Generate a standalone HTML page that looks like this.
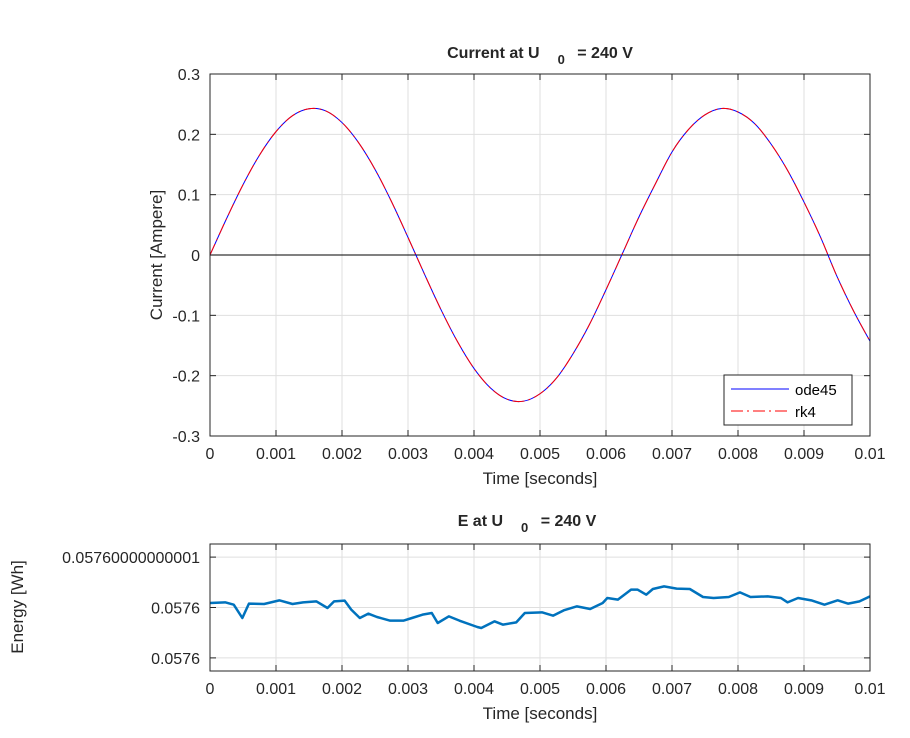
<!DOCTYPE html>
<html><head><meta charset="utf-8"><style>
body{margin:0;background:#fff;}
svg{font-family:"Liberation Sans",sans-serif;}
</style></head><body>
<svg id="c" width="910" height="733" xmlns="http://www.w3.org/2000/svg"></svg>
<script>
const timeMs=[0,0.25,0.5,0.75,1,1.25,1.5,1.75,2,2.25,2.5,2.75,3,3.25,3.5,3.75,4,4.25,4.5,4.75,5,5.25,5.5,5.75,6,6.25,6.5,6.75,7,7.25,7.5,7.75,8,8.25,8.5,8.75,9,9.25,9.5,9.75,10];
const currentA=[0,0.0601,0.1165,0.1656,0.2045,0.2309,0.2424,0.2390,0.2195,0.1864,0.142,0.0885,0.0292,-0.0318,-0.0906,-0.1436,-0.188,-0.2204,-0.239,-0.2423,-0.230,-0.204,-0.1638,-0.115,-0.0576,0.0027,0.0632,0.1183,0.1708,0.208,0.2323,0.2428,0.237,0.218,0.184,0.1405,0.0877,0.0297,-0.0355,-0.0926,-0.143];
const eTimeMs=[0,0.23,0.36,0.49,0.59,0.82,1.05,1.25,1.41,1.61,1.78,1.88,2.04,2.14,2.27,2.40,2.53,2.73,2.93,3.06,3.22,3.36,3.45,3.62,3.78,4.05,4.11,4.31,4.44,4.64,4.77,5.03,5.20,5.36,5.56,5.76,5.95,6.02,6.18,6.38,6.48,6.61,6.71,6.88,7.07,7.27,7.47,7.63,7.86,8.03,8.19,8.45,8.65,8.75,8.91,9.11,9.31,9.51,9.67,9.84,10];
const energyOffset=[-0.2,-0.07,-0.53,-3.2,-0.33,-0.4,0.33,-0.4,-0.07,0.13,-1.2,0.13,0.27,-1.53,-3.2,-2.33,-3,-3.73,-3.73,-3.2,-2.53,-2.2,-4.2,-2.87,-3.73,-5,-5.2,-3.87,-4.53,-4.07,-2.2,-2.07,-2.73,-1.67,-0.87,-1.4,-0.2,0.8,0.47,2.47,2.47,1.47,2.6,3.13,2.67,2.6,1,0.8,1,1.93,1,1.13,0.8,-0.07,0.8,0.33,-0.53,0.33,-0.33,0.13,1.13];
const xTicks=[0,0.001,0.002,0.003,0.004,0.005,0.006,0.007,0.008,0.009,0.01];
const xTickLabels=["0","0.001","0.002","0.003","0.004","0.005","0.006","0.007","0.008","0.009","0.01"];
const yTicksTop=[-0.3,-0.2,-0.1,0,0.1,0.2,0.3];
const yTickLabelsTop=["-0.3","-0.2","-0.1","0","0.1","0.2","0.3"];
const yTicksBot=[-10,0,10];
const yTickLabelsBot=["0.0576","0.0576","0.05760000000001"];

const NS="http://www.w3.org/2000/svg",svg=document.getElementById('c');
function mk(tag,at,name,parent){const e=document.createElementNS(NS,tag);for(const k in at)e.setAttribute(k,at[k]);


(parent||svg).appendChild(e);return e;}
function txt(x,y,s,name,extra){const t=mk('text',Object.assign({x:x,y:y,'font-size':16,fill:'#262626'},extra||{}),name);t.textContent=s;return t;}
function smooth(p){let d='M'+p[0][0]+','+p[0][1];for(let i=0;i<p.length-1;i++){const p0=p[i-1]||p[i],p1=p[i],p2=p[i+1],p3=p[i+2]||p2;
d+=' C'+(p1[0]+(p2[0]-p0[0])/6)+','+(p1[1]+(p2[1]-p0[1])/6)+' '+(p2[0]-(p3[0]-p1[0])/6)+','+(p2[1]-(p3[1]-p1[1])/6)+' '+p2[0]+','+p2[1];}return d;}

function axes(L,R,T,B,x0,x1,y0,y1,yt,ytl,pref){
  const X=v=>L+(v-x0)/(x1-x0)*(R-L),Y=v=>B-(v-y0)/(y1-y0)*(B-T);
  mk('rect',{x:L,y:T,width:R-L,height:B-T,fill:'#fff'},pref+'-plot-area');
  xTicks.forEach((v,i)=>{if(i>0&&i<xTicks.length-1)mk('line',{x1:X(v),x2:X(v),y1:T,y2:B,stroke:'#dfdfdf'},pref+'-x-grid');});
  yt.forEach((v,i)=>{if(i>0&&i<yt.length-1||pref==='energy')mk('line',{x1:L,x2:R,y1:Y(v),y2:Y(v),stroke:'#dfdfdf'},pref+'-y-grid');});
  xTicks.forEach((v,i)=>{mk('line',{x1:X(v),x2:X(v),y1:B,y2:B-6,stroke:'#262626'},pref+'-x-tick');mk('line',{x1:X(v),x2:X(v),y1:T,y2:T+6,stroke:'#262626'},pref+'-x-tick');
    txt(X(v),B+23,xTickLabels[i],pref+'-x-tick-label',{'text-anchor':'middle'});});
  yt.forEach((v,i)=>{mk('line',{x1:L,x2:L+6,y1:Y(v),y2:Y(v),stroke:'#262626'},pref+'-y-tick');mk('line',{x1:R,x2:R-6,y1:Y(v),y2:Y(v),stroke:'#262626'},pref+'-y-tick');
    txt(L-10,Y(v)+6,ytl[i],pref+'-y-tick-label',{'text-anchor':'end'});});
  return {X,Y};
}
// top
let a=axes(210,870,74,436,0,0.01,-0.3,0.3,yTicksTop,yTickLabelsTop,'current');
mk('line',{x1:210,x2:870,y1:a.Y(0),y2:a.Y(0),stroke:'#000'},'zero-line');
let cp=smooth(timeMs.map((t,i)=>[a.X(t/1000),a.Y(currentA[i])]));
mk('path',{d:cp,fill:'none',stroke:'#0000ff','stroke-width':1},'ode45-line');
mk('path',{d:cp,fill:'none',stroke:'#ff0000','stroke-width':1,'stroke-dasharray':'12,4,2,4'},'rk4-line');
mk('rect',{x:210,y:74,width:660,height:362,fill:'none',stroke:'#262626'},'current-axes-box');
// legend
mk('rect',{x:724,y:375,width:128,height:50,fill:'#fff',stroke:'#262626'},'legend');
mk('line',{x1:731,x2:789,y1:389,y2:389,stroke:'#0000ff'},'legend-ode45-line');
mk('line',{x1:731,x2:789,y1:411,y2:411,stroke:'#ff0000','stroke-dasharray':'12,4,2,4'},'legend-rk4-line');
txt(795,395,'ode45','legend-ode45-label',{'font-size':15,fill:'#000'});
txt(795,417,'rk4','legend-rk4-label',{'font-size':15,fill:'#000'});
// titles
let t1=txt(540,58,'','current-title',{'text-anchor':'middle','font-weight':'bold'});
t1.innerHTML='Current at U<tspan dx="18" dy="6" font-size="13">0</tspan><tspan dx="8" dy="-6"> = 240 V</tspan>';
txt(0,0,'Current [Ampere]','current-y-axis-title',{'text-anchor':'middle',transform:'translate(162,255) rotate(-90)','font-size':17});
txt(540,484,'Time [seconds]','current-x-axis-title',{'text-anchor':'middle','font-size':17});
// bottom
let b=axes(210,870,544,671,0,0.01,-12.6,12.6,yTicksBot,yTickLabelsBot,'energy');
b.Y=v=>602-v*5;
let ep=eTimeMs.map((t,i)=>b.X(t/1000)+','+b.Y(energyOffset[i])).join(' ');
mk('polyline',{points:ep,fill:'none',stroke:'#0072bd','stroke-width':2.5,'stroke-linejoin':'round'},'energy-line');
mk('rect',{x:210,y:544,width:660,height:127,fill:'none',stroke:'#262626'},'energy-axes-box');
let t2=txt(527,526,'','energy-title',{'text-anchor':'middle','font-weight':'bold'});
t2.innerHTML='E at U<tspan dx="18" dy="6" font-size="13">0</tspan><tspan dx="8" dy="-6"> = 240 V</tspan>';
txt(0,0,'Energy [Wh]','energy-y-axis-title',{'text-anchor':'middle',transform:'translate(23,607) rotate(-90)','font-size':17});
txt(540,719,'Time [seconds]','energy-x-axis-title',{'text-anchor':'middle','font-size':17});
</script>
</body></html>
